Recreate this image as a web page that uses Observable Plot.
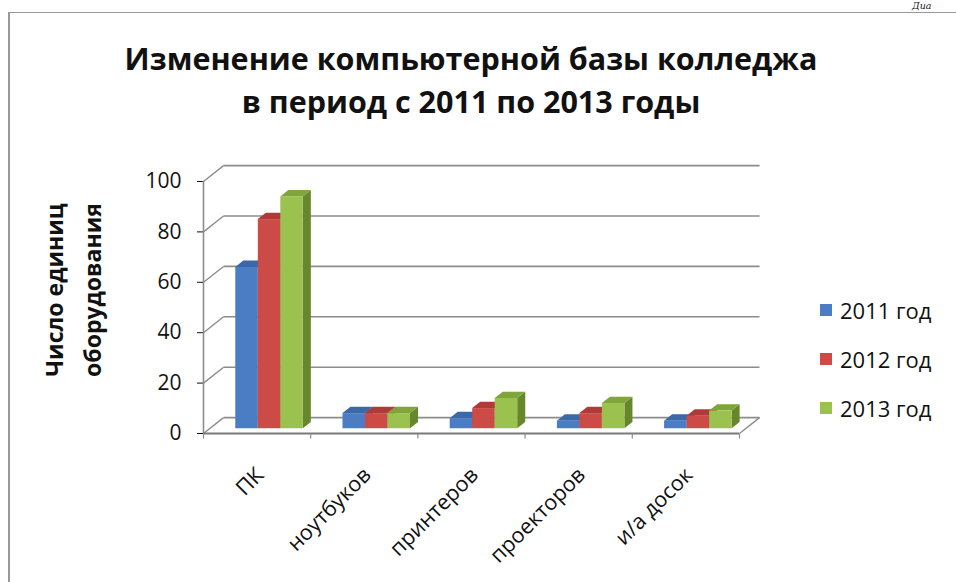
<!DOCTYPE html>
<html><head><meta charset="utf-8">
<script src="https://cdn.jsdelivr.net/npm/d3@7"></script>
<script src="https://cdn.jsdelivr.net/npm/@observablehq/plot@0.6"></script>
<style>
body{margin:0;background:#fff;}
#wrap{position:relative;width:956px;height:582px;overflow:hidden;font-family:"Open Sans",sans-serif;color:#111;}
#frame{position:absolute;left:8px;top:12px;width:1000px;height:700px;border-left:2px solid #999;border-top:1.5px solid #999;}
#corner{position:absolute;left:912px;top:1px;font-family:"DejaVu Serif",serif;font-style:italic;font-size:9.5px;line-height:10px;color:#222;}
#title{position:absolute;left:0;width:942px;top:37px;text-align:center;font-weight:700;font-size:30.5px;line-height:43px;}
#ytitle{position:absolute;left:73px;top:290px;width:260px;transform:translate(-50%,-50%) rotate(-90deg);text-align:center;font-weight:700;font-size:23px;line-height:38px;}
#chart{position:absolute;left:0;top:0;}
#legend{position:absolute;left:820px;top:285px;font-size:22px;}
.li{display:flex;align-items:center;height:49px;}
.sw{width:12px;height:12px;margin-right:8px;}
</style></head><body>
<div id="wrap">
 <div id="frame"></div>
 <div id="corner">Диа</div>
 <div id="title">Изменение компьютерной базы колледжа<br>в период с 2011 по 2013 годы</div>
 <div id="ytitle">Число единиц<br>оборудования</div>
 <div id="chart"></div>
 <div id="legend"></div>
</div>
<script>
// ---- data ----
const categories = ["ПК", "ноутбуков", "принтеров", "проекторов", "и/а досок"];
const seriesNames = ["2011 год", "2012 год", "2013 год"];
const values2011 = [64, 6, 4, 3, 3];
const values2012 = [83, 6, 8, 6, 5];
const values2013 = [92, 6, 12, 10, 7];
const yTicks = [0, 20, 40, 60, 80, 100];

// ---- styles ----
const frontColors = ["#4a7dc4", "#cc4b47", "#9bc14f"];
const topColors   = ["#3c68a8", "#ad3c39", "#7fa53b"];
const sideColors  = ["#2f5590", "#8f302e", "#66872c"];
const gridColor = "#8c8c8c";

// ---- projection (oblique depth, in data units) ----
const DX = 0.187, DY = 6.3;       // full wall depth
const F0 = 0.3, F1 = 0.7;         // bar front/back depth fractions
const barW = 0.21, groupStart = 0.245;

const allSeries = [values2011, values2012, values2013];
const rows = [];
allSeries.forEach((vals, s) => vals.forEach((v, i) => {
  const x1 = i + groupStart + s * barW;
  rows.push({s, i, v, x1, x2: x1 + barW, id: s + "-" + i});
}));

const barMarks = [];
seriesNames.forEach((name, s) => {
  const r = rows.filter(d => d.s === s);
  const side = r.flatMap(d => [
    {id: d.id, x: d.x2 + F0 * DX, y1: F0 * DY, y2: d.v + F0 * DY},
    {id: d.id, x: d.x2 + F1 * DX, y1: F1 * DY, y2: d.v + F1 * DY}
  ]);
  const top = r.flatMap(d => [
    {id: d.id, y: d.v + F0 * DY, x1: d.x1 + F0 * DX, x2: d.x2 + F0 * DX},
    {id: d.id, y: d.v + F1 * DY, x1: d.x1 + F1 * DX, x2: d.x2 + F1 * DX}
  ]);
  barMarks.push(Plot.areaY(side, {x: "x", y1: "y1", y2: "y2", z: "id", fill: sideColors[s]}));
  barMarks.push(Plot.areaX(top, {y: "y", x1: "x1", x2: "x2", z: "id", fill: topColors[s]}));
  barMarks.push(Plot.rectY(r, {x1: d => d.x1 + F0 * DX, x2: d => d.x2 + F0 * DX, y1: F0 * DY, y2: d => d.v + F0 * DY, fill: frontColors[s]}));
});

const n = categories.length;
const bounds = d3.range(n + 1);

const chart = Plot.plot({
  width: 956, height: 582,
  marginLeft: 203, marginRight: 217, marginTop: 181, marginBottom: 149,
  style: {fontFamily: "Open Sans, sans-serif", fontSize: "21px", color: "#111", background: "transparent"},
  x: {domain: [0, n], axis: null},
  y: {domain: [0, 100], ticks: yTicks, tickSize: 6, tickPadding: 16, label: null},
  marks: [
    Plot.link(yTicks, {x1: DX, x2: n + DX, y1: t => t + DY, y2: t => t + DY, stroke: gridColor, strokeWidth: 1.6}),
    Plot.link(yTicks, {x1: 0, x2: DX, y1: t => t, y2: t => t + DY, stroke: gridColor, strokeWidth: 1.4}),
    Plot.link([0], {x1: n, x2: n + DX, y1: 0, y2: DY, stroke: gridColor, strokeWidth: 1.4}),
    Plot.ruleX([0], {y1: 0, y2: 100, stroke: gridColor, strokeWidth: 1.6}),
    ...barMarks,
    Plot.ruleY([0], {x1: 0, x2: n, stroke: "#7a7a7a", strokeWidth: 2.2}),
    Plot.link(bounds, {x1: b => b, x2: b => b, y1: 0, y2: -2, stroke: gridColor, strokeWidth: 1.2}),
    Plot.text(categories, {x: (d, i) => i + 0.5, y: 0, text: d => d, rotate: -45, textAnchor: "end", dx: 3, dy: 38, fontSize: 21.5, fill: "#111"})
  ]
});
document.getElementById("chart").appendChild(chart);

const legend = document.getElementById("legend");
seriesNames.forEach((name, s) => {
  const el = document.createElement("div");
  el.className = "li";
  el.innerHTML = `<div class="sw" style="background:${frontColors[s]}"></div><span>${name}</span>`;
  legend.appendChild(el);
});
</script>
</body></html>
